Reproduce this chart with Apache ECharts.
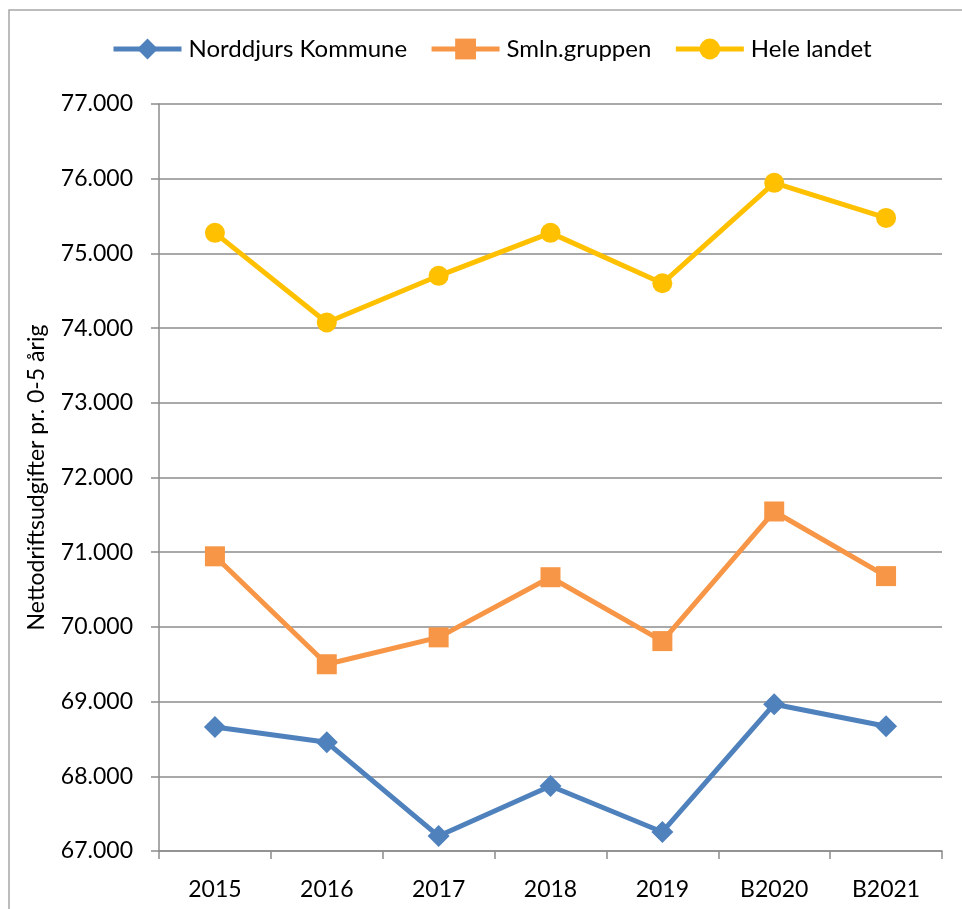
<!DOCTYPE html>
<html>
<head>
<meta charset="utf-8">
<script src="https://cdn.jsdelivr.net/npm/echarts@6/dist/echarts.min.js"></script>
<style>
  html, body { margin: 0; padding: 0; background: #fff; }
  #chart { width: 962px; height: 909px; }
</style>
</head>
<body>
<div id="chart"></div>
<script>
const years = ['2015', '2016', '2017', '2018', '2019', 'B2020', 'B2021']
const norddjurs = [68660, 68455, 67200, 67870, 67255, 68965, 68670]
const smln = [70945, 69500, 69860, 70665, 69810, 71545, 70680]
const heleLandet = [75275, 74075, 74700, 75275, 74600, 75945, 75475]

const fontFamily = 'Lato, Open Sans, sans-serif'

const fmt = v => {
  let s = String(Math.round(v))
  return s.replace(/\B(?=(\d{3})+(?!\d))/g, '.')
}

const dom = document.getElementById('chart')
const chart = echarts.init(dom)

const lineSeries = (name, data, color, symbol, size) => ({
  name: name,
  type: 'line',
  data: data,
  symbol: symbol,
  symbolSize: size,
  lineStyle: { color: color, width: 5 },
  itemStyle: { color: color },
  z: 3
})

let option = {
  animation: false,
  textStyle: { fontFamily: fontFamily },
  graphic: [{
    type: 'rect',
    shape: { x: 9, y: 10, width: 1000, height: 1000 },
    style: { fill: 'none', stroke: '#a6a6a6', lineWidth: 1.5 },
    silent: true
  }],
  legend: {
    top: 32,
    left: 106,
    itemWidth: 68,
    itemHeight: 26,
    itemGap: 22,
    lineStyle: { width: 5 },
    textStyle: { fontSize: 24, color: '#000', fontFamily: fontFamily, padding: [0, 0, 0, 2] },
    data: ['Norddjurs Kommune', 'Smln.gruppen', 'Hele landet']
  },
  grid: {
    left: 159,
    right: 20,
    top: 104,
    bottom: 58
  },
  xAxis: {
    type: 'category',
    data: years,
    boundaryGap: true,
    axisLine: { lineStyle: { color: '#8c8c8c', width: 1.5 } },
    axisTick: { show: true, length: 8, lineStyle: { color: '#8c8c8c', width: 1.5 } },
    axisLabel: { color: '#000', fontSize: 23, margin: 27, fontFamily: fontFamily }
  },
  yAxis: {
    type: 'value',
    min: 67000,
    max: 77000,
    interval: 1000,
    name: 'Nettodriftsudgifter pr. 0-5 årig',
    nameLocation: 'middle',
    nameGap: 111,
    nameTextStyle: { fontSize: 23, color: '#000', fontFamily: fontFamily },
    axisLine: { show: true, lineStyle: { color: '#8c8c8c', width: 1.5 } },
    axisTick: { show: true, length: 8, lineStyle: { color: '#8c8c8c', width: 1.5 } },
    splitLine: { lineStyle: { color: '#8c8c8c', width: 1.5 } },
    axisLabel: { color: '#000', fontSize: 23, margin: 26, formatter: fmt, fontFamily: fontFamily }
  },
  series: [
    lineSeries('Norddjurs Kommune', norddjurs, '#4f81bd', 'diamond', 22),
    lineSeries('Smln.gruppen', smln, '#f79646', 'rect', 20),
    lineSeries('Hele landet', heleLandet, '#ffc000', 'circle', 20)
  ]
}

chart.setOption(option)
</script>
</body>
</html>
